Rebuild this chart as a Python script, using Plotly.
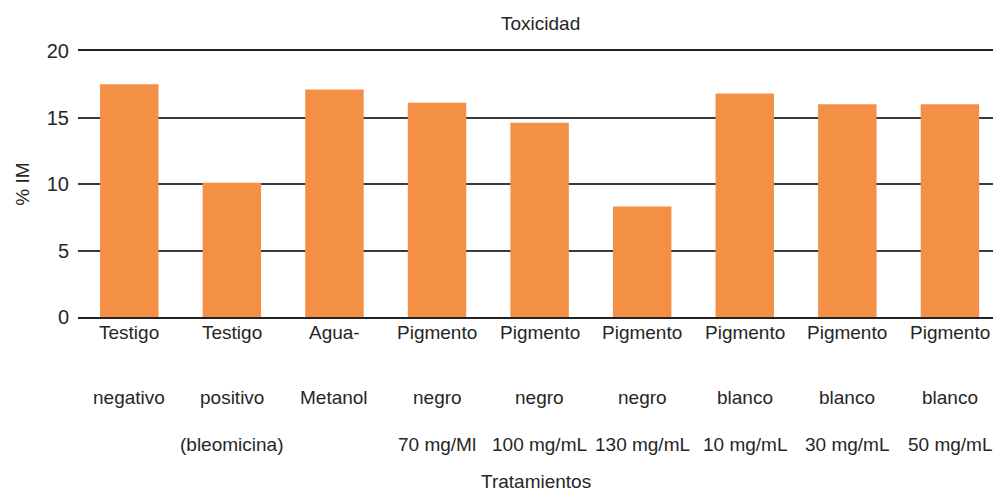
import plotly.graph_objects as go

# Datos
fila1 = ["Testigo", "Testigo", "Agua-", "Pigmento", "Pigmento", "Pigmento", "Pigmento", "Pigmento", "Pigmento"]
fila2 = ["negativo", "positivo", "Metanol", "negro", "negro", "negro", "blanco", "blanco", "blanco"]
fila3 = ["", "(bleomicina)", "", "70 mg/Ml", "100 mg/mL", "130 mg/mL", "10 mg/mL", "30 mg/mL", "50 mg/mL"]
valores = [17.5, 10.1, 17.1, 16.1, 14.6, 8.3, 16.8, 16.0, 16.0]
y_ticks = [0, 5, 10, 15, 20]

FONT = "Liberation Sans, Arial, sans-serif"
TXT = "#262626"
FS = 19

pos = list(range(len(valores)))

fig = go.Figure(
    go.Bar(
        x=pos,
        y=valores,
        marker=dict(color="#F39045", line=dict(width=0)),
        width=0.57,
    )
)

# Etiquetas de categoría en tres filas
anns = []
for fila, ypap in ((fila1, -0.060), (fila2, -0.301), (fila3, -0.481)):
    for i, t in enumerate(fila):
        if t:
            anns.append(dict(x=pos[i], xref="x", y=ypap, yref="paper", text=t,
                             showarrow=False, xanchor="center", yanchor="middle",
                             font=dict(family=FONT, size=FS, color=TXT)))
anns.append(dict(x=0.5, xref="paper", y=-0.620, yref="paper", text="Tratamientos",
                 showarrow=False, xanchor="center", yanchor="middle",
                 font=dict(family=FONT, size=FS, color=TXT)))
anns.append(dict(x=(540 - 78) / (993 - 78), xref="paper", y=1.103, yref="paper", text="Toxicidad",
                 showarrow=False, xanchor="center", yanchor="middle",
                 font=dict(family=FONT, size=FS, color=TXT)))

fig.update_layout(
    width=995,
    height=493,
    margin=dict(l=78, r=2, t=51, b=176),
    plot_bgcolor="white",
    paper_bgcolor="white",
    font=dict(family=FONT, size=FS, color=TXT),
    showlegend=False,
    annotations=anns,
)

fig.update_xaxes(
    tickvals=pos,
    showticklabels=False,
    range=[-0.5, 8.42],
    showgrid=False,
    showline=True,
    mirror=True,
    linecolor="#222222",
    linewidth=1.5,
    zeroline=False,
    ticks="",
    automargin=False,
)

fig.update_yaxes(
    range=[0, 20],
    tickvals=y_ticks,
    showgrid=True,
    gridcolor="#3a3a3a",
    gridwidth=1.5,
    zeroline=False,
    showline=False,
    ticks="",
    ticklabelstandoff=8,
    tickfont=dict(family=FONT, size=20, color=TXT),
    title=dict(text="% IM", standoff=12, font=dict(family=FONT, size=FS, color=TXT)),
    automargin=False,
)

fig.write_html(
    "out.html",
    config={"displayModeBar": False},
    post_script="document.body.style.margin='0';document.body.style.overflow='hidden';",
)
